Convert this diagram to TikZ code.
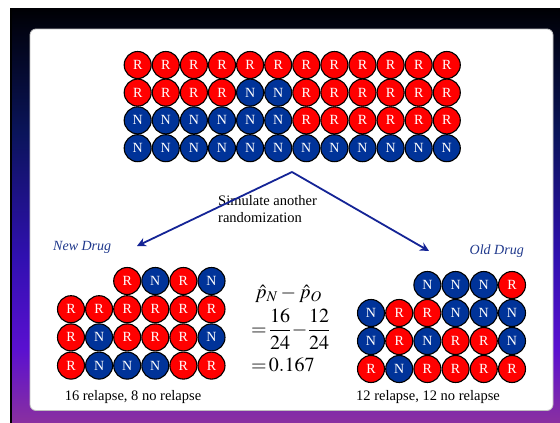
\documentclass[tikz,border=0pt]{standalone}
\usepackage{mathptmx}
\usepackage{fontspec}
\setmainfont{Liberation Serif}
\usetikzlibrary{arrows.meta}
\definecolor{redc}{RGB}{255,0,0}
\definecolor{bluec}{RGB}{0,51,153}
\definecolor{arrowc}{RGB}{20,36,150}
\definecolor{drugc}{RGB}{31,56,140}
\definecolor{bgA}{RGB}{0,0,4}
\definecolor{bgB}{RGB}{10,20,90}
\definecolor{bgC}{RGB}{48,16,176}
\definecolor{bgD}{RGB}{90,16,208}
\definecolor{bgE}{RGB}{138,48,160}
\pgfdeclareverticalshading{bgshade}{100bp}{color(0bp)=(bgE); color(25bp)=(bgE); color(34bp)=(bgD); color(45bp)=(bgC); color(60bp)=(bgB); color(75bp)=(bgA); color(100bp)=(bgA)}
\begin{document}
\begin{tikzpicture}[x=1pt,y=-1pt,
  ball/.style={circle,draw=black,line width=1.1pt,minimum size=27pt,inner sep=0pt,text=white,font=\fontsize{14}{14}\selectfont},
  ballR/.style={ball,fill=redc},
  ballN/.style={ball,fill=bluec},
  lab/.style={font=\fontsize{14.5}{16}\selectfont,text=black,inner sep=0pt},
  drug/.style={font=\fontsize{14}{16}\selectfont\itshape,text=drugc,inner sep=0pt},
  conn/.style={draw=arrowc,line width=1.8pt,-{Stealth[length=9pt,width=9pt]}},
  mathtxt/.style={font=\fontsize{20}{22}\selectfont,inner sep=0pt,align=left}]
\useasboundingbox (0,0) rectangle (560,423);
\fill[white] (0,0) rectangle (560,423);
\shade[shading=bgshade] (10,8) rectangle (560,423);
\draw[black,line width=1.5pt] (11,8) -- (11,423);
\draw[draw=gray!50,line width=0.8pt,fill=white,rounded corners=6pt] (30,29) rectangle (553,410.5);
% top grid
\foreach \r/\y/\s in {1/65/{R,R,R,R,R,R,R,R,R,R,R,R},2/92.6/{R,R,R,R,N,N,R,R,R,R,R,R},3/120.4/{N,N,N,N,N,N,R,R,R,R,R,R},4/148.2/{N,N,N,N,N,N,N,N,N,N,N,N}}{
  \foreach \c [count=\i] in \s {
    \node[ball\c] (top-\r-\i) at ({137.7+28.1*(\i-1)},\y) {\c};
  }
}
% left group (new drug)
\foreach \r/\y/\o/\s in {1/281/2/{R,N,R,N},2/309.2/0/{R,R,R,R,R,R},3/337.4/0/{R,N,R,R,R,N},4/365.6/0/{R,N,N,N,R,R}}{
  \foreach \c [count=\i] in \s {
    \node[ball\c] (new-\r-\i) at ({71+28.1*(\i+\o-1)},\y) {\c};
  }
}
% right group (old drug)
\foreach \r/\y/\o/\s in {1/285/2/{N,N,N,R},2/313/0/{N,R,R,N,N,N},3/341/0/{N,R,N,R,R,N},4/369/0/{R,N,R,R,R,R}}{
  \foreach \c [count=\i] in \s {
    \node[ball\c] (old-\r-\i) at ({371+28.2*(\i+\o-1)},\y) {\c};
  }
}
% labels
\node[drug,anchor=base west] (newdrug) at (53,250) {New Drug};
\node[drug,anchor=base east] (olddrug) at (524,254) {Old Drug};
\node[lab,anchor=base] (newcount) at (133,400) {16 relapse, 8 no relapse};
\node[lab,anchor=base] (oldcount) at (428,400) {12 relapse, 12 no relapse};
\node[lab,anchor=base west,align=left,font=\fontsize{14.5}{17}\selectfont] (sim) at (218,222) {Simulate another\\randomization};
% arrows
\coordinate (apex) at (292,172);
\coordinate (ltip) at (137,246);
\coordinate (rtip) at (429,251);
\draw[conn] (apex) -- (ltip);
\draw[conn] (apex) -- (rtip);
% math
\node[mathtxt,anchor=north west] (formula) at (251,285) {\hspace{4pt}$\hat{p}_N-\hat{p}_O$\\[5pt]$\displaystyle =\!\frac{16}{24}\!-\!\frac{12}{24}$\\[7pt]$=\!0.167$};
\end{tikzpicture}
\end{document}
